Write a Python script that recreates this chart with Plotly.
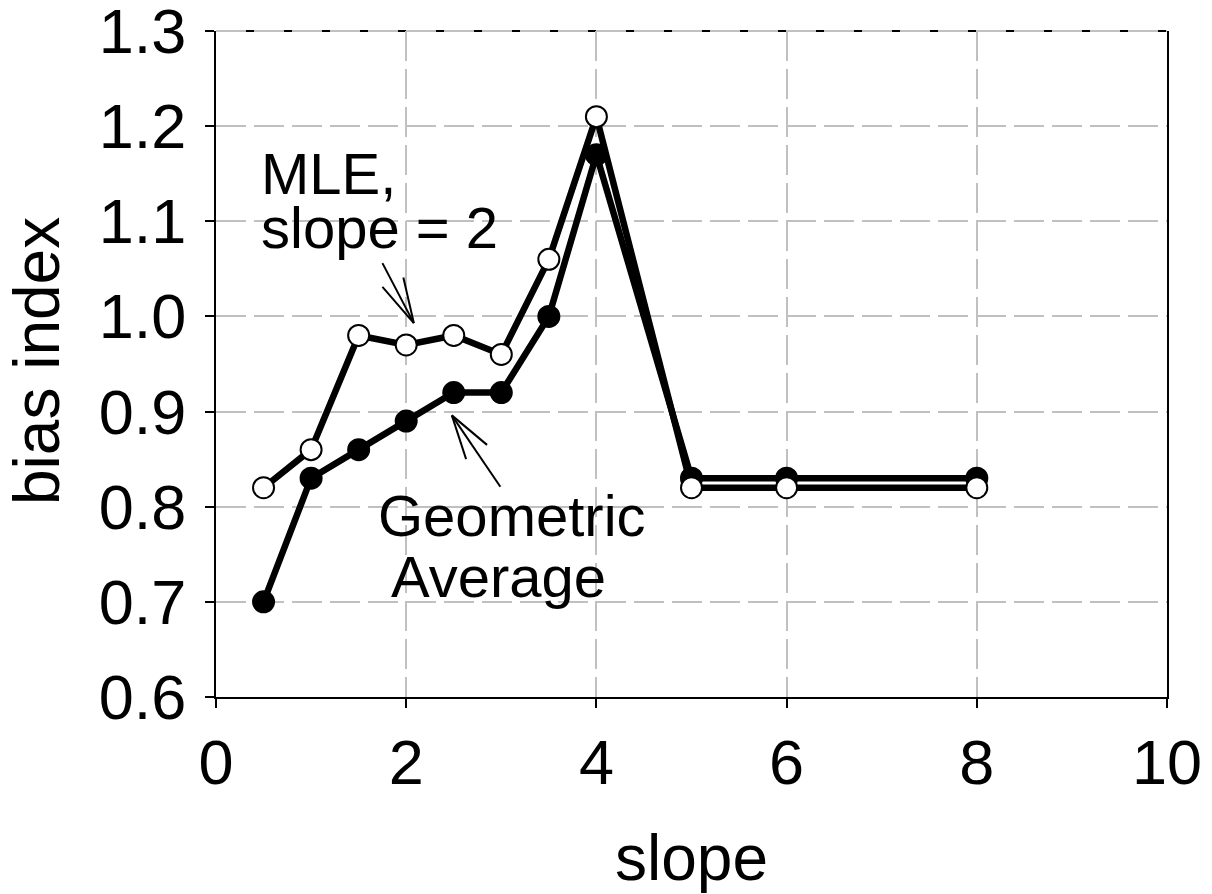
import plotly.graph_objects as go

# data
slope = [0.5, 1, 1.5, 2, 2.5, 3, 3.5, 4, 5, 6, 8]
geo_avg = [0.70, 0.83, 0.86, 0.89, 0.92, 0.92, 1.00, 1.17, 0.83, 0.83, 0.83]
mle_slope2 = [0.82, 0.86, 0.98, 0.97, 0.98, 0.96, 1.06, 1.21, 0.82, 0.82, 0.82]

x_ticks = [0, 2, 4, 6, 8, 10]
y_ticks = [0.6, 0.7, 0.8, 0.9, 1.0, 1.1, 1.2, 1.3]
y_labels = ["0.6", "0.7", "0.8", "0.9", "1.0", "1.1", "1.2", "1.3"]

# callout arrows: tip, then the points each stroke starts from
mle_tip = (2.08, 0.993)
mle_strokes = [(1.75, 1.056), (1.75, 1.031), (1.97, 1.041)]
geo_tip = (2.48, 0.896)
geo_strokes = [(2.99, 0.821), (2.63, 0.850), (2.85, 0.865)]

FONT = "Liberation Sans, Arial, sans-serif"

fig = go.Figure()
fig.add_trace(go.Scatter(
    x=slope, y=geo_avg, mode="lines+markers", name="Geometric Average",
    line=dict(color="black", width=6.5),
    marker=dict(size=21, color="black", line=dict(color="black", width=2)),
))
fig.add_trace(go.Scatter(
    x=slope, y=mle_slope2, mode="lines+markers", name="MLE, slope = 2",
    line=dict(color="black", width=6.5),
    marker=dict(size=21, color="white", line=dict(color="black", width=2)),
))

shapes = []
for tip, strokes in [(mle_tip, mle_strokes), (geo_tip, geo_strokes)]:
    for sx, sy in strokes:
        shapes.append(dict(type="line", xref="x", yref="y", x0=sx, y0=sy,
                           x1=tip[0], y1=tip[1], line=dict(color="black", width=2)))
# top frame: black line showing through the gaps of a gray dashed gridline
shapes.append(dict(type="line", xref="paper", yref="paper", x0=0, x1=1, y0=1, y1=1,
                   layer="below", line=dict(color="black", width=2)))
shapes.append(dict(type="line", xref="paper", yref="paper", x0=0, x1=1, y0=1, y1=1,
                   layer="below", line=dict(color="#c0c0c0", width=2, dash="30px,8px")))

annotations = [
    dict(x=0.455, y=1.150, text="MLE,", xanchor="left"),
    dict(x=0.455, y=1.093, text="slope = 2", xanchor="left"),
    dict(x=1.68, y=0.791, text="Geometric", xanchor="left"),
    dict(x=1.82, y=0.727, text="Average", xanchor="left"),
]
for a in annotations:
    a.update(xref="x", yref="y", showarrow=False, yanchor="middle",
             font=dict(family=FONT, size=58, color="black"))

# y title as a rotated annotation so it can sit further left than the margin allows
annotations.append(dict(
    xref="paper", yref="paper", x=0, y=0.5, xshift=-179, yshift=3,
    text="bias index", textangle=-90, showarrow=False,
    xanchor="center", yanchor="middle",
    font=dict(family=FONT, size=64, color="black"),
))

# page body has an 8px margin, so the figure is shifted by that much
fig.update_layout(
    width=1204, height=886,
    margin=dict(l=208, r=45, t=23, b=197),
    paper_bgcolor="white", plot_bgcolor="white",
    showlegend=False,
    font=dict(family=FONT, color="black", size=58),
    shapes=shapes, annotations=annotations,
    xaxis=dict(
        range=[0, 10], tickvals=x_ticks, ticks="outside", ticklen=9, tickwidth=2,
        tickcolor="black", showline=True, linecolor="black", linewidth=2,
        showgrid=True, gridcolor="#c0c0c0", gridwidth=2, griddash="30px,8px",
        zeroline=False, tickfont=dict(size=63), automargin=False,
        ticklabeloverflow="allow",
        title=dict(text="slope", font=dict(size=64), standoff=46),
    ),
    yaxis=dict(
        range=[0.6, 1.30001], tickvals=y_ticks, ticktext=y_labels, ticks="outside",
        ticklen=9, tickwidth=2, tickcolor="black", showline=True, linecolor="black",
        linewidth=2, mirror=True, ticklabelstandoff=6, ticklabeloverflow="allow",
        showgrid=True, gridcolor="#c0c0c0", gridwidth=2, griddash="30px,8px",
        zeroline=False, tickfont=dict(size=63), automargin=False,
    ),
)

fig.write_html("out.html")
